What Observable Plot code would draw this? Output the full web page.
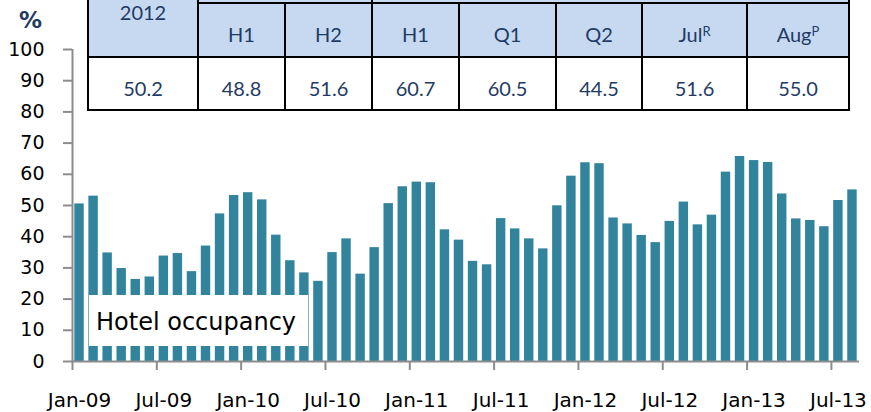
<!DOCTYPE html>
<html><head><meta charset="utf-8">
<script src="https://cdn.jsdelivr.net/npm/d3@7"></script>
<script src="https://cdn.jsdelivr.net/npm/@observablehq/plot@0.6"></script>
<style>
html,body{margin:0;padding:0;background:#fff;}
#wrap{position:relative;width:871px;height:412px;overflow:hidden;font-family:"DejaVu Sans",sans-serif;}
#chart{position:absolute;left:0;top:0;}
#tbl{position:absolute;left:87px;top:-28px;display:grid;
  grid-template-columns:108px 85px 85px 85px 95px 84px 103px 100px;
  grid-template-rows:28px 52px 51px;gap:2px;padding:2px;background:#000;
  font-family:Lato,sans-serif;font-size:20px;color:#1f3b64;}
.c{display:flex;align-items:center;justify-content:center;box-sizing:border-box;}
.h{background:#c6d9f1;padding-top:7px;}
.v{background:#fff;padding-top:8px;}
.g{background:#c6d9f1;}
.yr{background:#c6d9f1;align-items:flex-start;padding-top:30px;line-height:17px;}
sup{font-size:13px;line-height:0;position:relative;top:-3px;}
#pct{position:absolute;left:19px;top:9px;font-size:23px;line-height:23px;font-weight:bold;color:#1f3b64;}
#lbl{position:absolute;left:89px;top:295px;width:219px;height:51px;background:#fff;box-sizing:border-box;
  padding-left:7px;padding-top:4px;line-height:47px;font-size:24px;color:#000;white-space:nowrap;}
</style>
</head><body>
<div id="wrap">
  <div id="chart"></div>
  <div id="tbl"></div>
  <div id="pct">%</div>
  <div id="lbl">Hotel occupancy</div>
</div>
<script>
const months = [
  "Jan-09","Feb-09","Mar-09","Apr-09","May-09","Jun-09","Jul-09","Aug-09","Sep-09","Oct-09","Nov-09","Dec-09",
  "Jan-10","Feb-10","Mar-10","Apr-10","May-10","Jun-10","Jul-10","Aug-10","Sep-10","Oct-10","Nov-10","Dec-10",
  "Jan-11","Feb-11","Mar-11","Apr-11","May-11","Jun-11","Jul-11","Aug-11","Sep-11","Oct-11","Nov-11","Dec-11",
  "Jan-12","Feb-12","Mar-12","Apr-12","May-12","Jun-12","Jul-12","Aug-12","Sep-12","Oct-12","Nov-12","Dec-12",
  "Jan-13","Feb-13","Mar-13","Apr-13","May-13","Jun-13","Jul-13","Aug-13"
];
const occupancy = [
  50.5, 53.0, 34.8, 29.8, 26.3, 27.1, 33.8, 34.6, 28.8, 37.0, 47.3, 53.2,
  54.1, 51.8, 40.5, 32.3, 28.4, 25.7, 34.9, 39.3, 28.0, 36.5, 50.6, 56.0,
  57.5, 57.3, 42.2, 38.9, 32.1, 31.0, 45.8, 42.5, 39.3, 36.1, 49.9, 59.4,
  63.7, 63.4, 46.0, 44.1, 40.4, 38.1, 44.9, 51.1, 43.8, 46.9, 60.7, 65.7,
  64.4, 63.8, 53.7, 45.7, 45.2, 43.2, 51.6, 55.0
];
const xTickLabels = ["Jan-09","Jul-09","Jan-10","Jul-10","Jan-11","Jul-11","Jan-12","Jul-12","Jan-13","Jul-13"];
const yTicks = [0,10,20,30,40,50,60,70,80,90,100];

const tableYear = "2012";
const tableHeaders = ["H1","H2","H1","Q1","Q2","Jul","Aug"];
const tableSups = ["","","","","","R","P"];
const tableValues = ["50.2","48.8","51.6","60.7","60.5","44.5","51.6","55.0"];

const W = 871, H = 412, mL = 72, mR = 12, mT = 49, mB = 51;
const step = (W - mL - mR) / months.length;
const data = months.map((m, i) => ({month: m, value: occupancy[i]}));
const axisGrey = "#8c8c8c";

const chart = Plot.plot({
  width: W, height: H,
  marginLeft: mL, marginRight: mR, marginTop: mT, marginBottom: mB,
  style: {fontFamily: "DejaVu Sans", fontSize: "19px", color: "#000", background: "transparent"},
  x: {domain: months, type: "band", paddingInner: 0.33, paddingOuter: 0.165, round: false, axis: null},
  y: {domain: [0, 100], axis: null},
  marks: [
    Plot.barY(data, {x: "month", y: "value", fill: "#31849b"}),
    Plot.ruleY([0], {stroke: axisGrey, strokeWidth: 2}),
    Plot.ruleX([months[0]], {y1: 0, y2: 100, dx: -step / 2, stroke: axisGrey, strokeWidth: 2}),
    Plot.ruleX(xTickLabels, {x: d => d, y1: 0, y2: 0, insetBottom: -9, dx: -step / 2, stroke: axisGrey, strokeWidth: 2}),
    Plot.axisY({ticks: yTicks, tickSize: 9, tickPadding: 19, stroke: axisGrey, strokeWidth: 2, fontSize: 19, label: null}),
    Plot.axisX({ticks: xTickLabels, tickSize: 0, tickPadding: 31, fontSize: 20, label: null})
  ]
});
document.getElementById("chart").appendChild(chart);

// table
const tbl = document.getElementById("tbl");
function cell(cls, html, col, row) {
  const d = document.createElement("div");
  d.className = "c " + cls;
  d.innerHTML = html;
  d.style.gridColumn = col;
  d.style.gridRow = row;
  tbl.appendChild(d);
}
cell("yr", tableYear, "1", "1 / 3");
cell("g", "", "2 / 4", "1");
cell("g", "", "4 / 9", "1");
tableHeaders.forEach((h, i) => cell("h", h + (tableSups[i] ? "<sup>" + tableSups[i] + "</sup>" : ""), String(i + 2), "2"));
tableValues.forEach((v, i) => cell("v", v, String(i + 1), "3"));
</script>
</body></html>
